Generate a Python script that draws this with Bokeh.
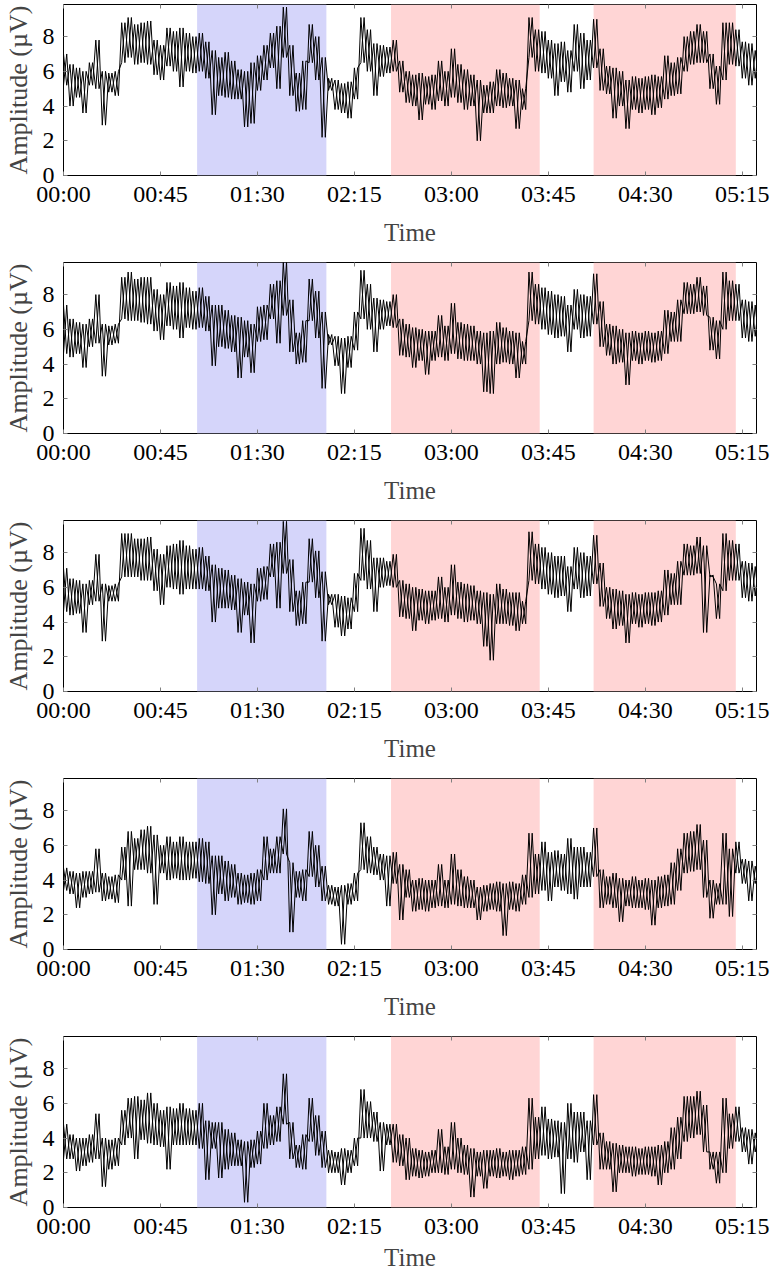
from bokeh.plotting import figure
from bokeh.layouts import column
from bokeh.models import (FixedTicker, LinearAxis, BoxAnnotation, Range1d, ColumnDataSource,
                          CustomLabelingPolicy)
from bokeh.embed import file_html
from bokeh.resources import INLINE

# ---------------- data ----------------
sample_minutes = list(range(0, 322, 3))          # sample times (minutes)
tick_minutes = [0, 45, 90, 135, 180, 225, 270, 315]
tick_labels = ["00:00", "00:45", "01:30", "02:15", "03:00", "03:45", "04:30", "05:15"]
y_ticks = [0, 2, 4, 6, 8]
x_end = 321.6
y_end = 9.85

region_start = [62, 152, 246]
region_end = [122, 221, 312]
region_color = ["#d5d5fa", "#ffd5d5", "#ffd5d5"]

# local maxima / minima of each trace in every 3-minute window
p1_hi = [7.0, 6.4, 6.2, 6.0, 6.5, 7.8, 6.0, 5.9, 6.0, 8.8,
         9.1, 8.7, 8.8, 8.9, 7.8, 7.5, 8.5, 8.3, 8.5, 8.2,
         8.0, 8.2, 7.7, 7.2, 6.8, 7.1, 6.6, 6.1, 6.0, 6.5,
         6.9, 7.5, 8.2, 8.6, 9.7, 7.5, 5.9, 6.6, 8.7, 8.0,
         6.8, 5.6, 5.5, 5.3, 5.4, 6.2, 9.1, 8.4, 7.6, 7.5,
         7.4, 7.8, 6.6, 6.0, 5.8, 5.9, 5.7, 5.8, 6.6, 6.0,
         7.3, 6.4, 6.1, 5.8, 5.5, 5.2, 5.4, 6.1, 5.9, 5.6,
         5.5, 5.0, 9.1, 8.4, 8.3, 7.8, 7.6, 7.7, 7.2, 8.7,
         8.2, 7.8, 9.0, 7.3, 6.3, 6.2, 6.0, 5.5, 5.7, 5.6,
         5.7, 5.8, 5.7, 6.9, 6.5, 6.8, 8.0, 8.3, 8.7, 8.3,
         7.0, 6.3, 8.8, 8.8, 8.4, 7.7, 7.6, 7.2]
p1_lo = [5.2, 4.0, 4.5, 3.6, 5.2, 5.0, 2.9, 4.8, 4.6, 6.5,
         6.8, 6.4, 6.5, 6.4, 5.8, 5.5, 6.3, 6.0, 5.1, 6.0,
         5.9, 6.0, 5.6, 3.5, 4.6, 4.5, 4.4, 4.4, 2.8, 3.0,
         4.9, 5.5, 6.2, 5.0, 6.8, 4.6, 3.7, 3.8, 6.5, 5.5,
         2.2, 4.9, 3.8, 3.6, 3.3, 4.4, 6.5, 6.0, 4.6, 5.7,
         5.9, 6.0, 4.8, 4.2, 4.0, 3.2, 4.1, 3.8, 4.3, 4.0,
         4.5, 4.2, 3.8, 4.0, 2.0, 3.6, 3.6, 4.0, 3.9, 4.0,
         2.7, 3.8, 6.8, 6.0, 5.9, 5.6, 4.6, 5.4, 4.8, 6.0,
         5.0, 5.5, 6.2, 4.9, 4.7, 3.3, 4.0, 2.7, 3.8, 3.6,
         3.8, 3.5, 3.9, 4.4, 4.6, 4.7, 6.0, 6.4, 6.5, 6.5,
         5.0, 4.1, 5.5, 6.4, 6.3, 5.6, 5.2, 5.6]

p2_hi = [7.4, 6.6, 6.4, 6.3, 6.6, 8.0, 6.3, 6.2, 6.3, 9.0,
         9.3, 8.9, 9.0, 9.0, 8.3, 8.0, 8.7, 8.5, 8.7, 8.4,
         8.2, 8.4, 7.9, 7.4, 7.4, 7.1, 6.8, 6.7, 6.5, 6.3,
         7.3, 7.4, 8.6, 8.8, 9.9, 7.7, 5.8, 6.5, 8.9, 8.2,
         7.0, 5.7, 5.6, 5.5, 5.6, 7.0, 9.4, 8.6, 7.8, 7.7,
         7.6, 8.0, 6.6, 6.3, 6.1, 6.0, 5.9, 5.9, 6.8, 6.2,
         7.5, 6.4, 6.3, 6.2, 5.9, 5.8, 5.9, 6.4, 6.1, 5.9,
         5.8, 5.3, 9.3, 8.6, 8.4, 8.2, 8.0, 7.9, 7.4, 8.3,
         8.0, 7.9, 9.2, 7.6, 6.3, 6.2, 6.0, 5.8, 5.9, 5.8,
         5.9, 5.8, 5.9, 7.1, 7.0, 7.7, 8.7, 8.6, 9.0, 8.5,
         6.7, 6.5, 9.3, 8.8, 8.6, 7.7, 7.6, 7.4]
p2_lo = [4.6, 4.4, 4.6, 3.8, 5.0, 5.2, 3.3, 5.1, 5.2, 6.6,
         6.5, 6.5, 6.4, 6.3, 5.9, 5.4, 6.2, 6.0, 5.5, 6.1,
         6.0, 6.1, 5.9, 3.9, 5.0, 4.9, 4.7, 3.2, 4.4, 3.5,
         5.3, 5.4, 6.6, 5.2, 6.8, 4.7, 4.0, 4.1, 6.5, 5.5,
         2.6, 5.1, 3.9, 2.3, 3.8, 4.8, 6.6, 6.0, 4.7, 6.0,
         6.2, 6.1, 4.5, 4.4, 3.8, 4.2, 3.4, 4.2, 4.4, 4.2,
         4.6, 4.3, 4.2, 4.2, 4.0, 2.4, 2.3, 4.0, 4.1, 4.0,
         3.2, 4.0, 6.5, 6.3, 6.0, 5.7, 5.5, 5.6, 4.7, 6.0,
         5.5, 5.6, 6.3, 5.0, 4.5, 4.0, 4.1, 2.8, 4.2, 4.0,
         4.2, 4.1, 4.2, 4.6, 5.3, 5.3, 6.9, 6.9, 7.0, 6.8,
         4.8, 4.3, 6.0, 6.5, 6.5, 5.5, 5.3, 5.6]

p3_hi = [7.1, 6.5, 6.4, 6.2, 6.4, 7.9, 6.2, 6.1, 6.2, 9.1,
         9.1, 8.8, 8.8, 8.9, 8.2, 7.9, 8.4, 8.5, 8.7, 8.4,
         8.2, 8.3, 7.8, 7.3, 7.1, 7.0, 6.7, 6.5, 6.3, 6.2,
         7.1, 7.2, 8.5, 8.6, 9.8, 7.6, 5.8, 6.3, 8.8, 8.1,
         6.9, 5.6, 5.6, 5.5, 5.4, 6.8, 9.4, 8.7, 7.7, 7.7,
         7.5, 7.9, 6.4, 6.2, 6.0, 5.9, 5.8, 5.8, 6.6, 6.0,
         7.3, 6.3, 6.2, 6.1, 5.8, 5.7, 5.6, 6.2, 5.9, 5.7,
         5.7, 5.2, 9.2, 8.5, 8.3, 8.0, 7.8, 7.8, 7.2, 8.3,
         8.0, 7.8, 9.0, 7.4, 6.0, 5.9, 5.8, 5.6, 5.7, 5.6,
         5.7, 5.7, 5.8, 7.0, 6.8, 7.5, 8.5, 8.4, 8.9, 8.4,
         6.7, 6.2, 9.1, 8.7, 8.5, 7.5, 7.4, 7.2]
p3_lo = [4.6, 4.4, 4.5, 3.4, 5.0, 5.2, 2.9, 5.2, 5.2, 6.6,
         6.6, 6.6, 6.4, 6.4, 5.8, 5.0, 6.0, 5.9, 5.6, 5.9,
         5.9, 5.9, 5.8, 4.0, 4.8, 4.8, 4.7, 3.4, 4.4, 2.8,
         5.2, 5.3, 6.6, 4.8, 6.8, 4.6, 3.8, 3.9, 6.3, 5.4,
         2.9, 5.0, 3.7, 3.2, 3.6, 4.6, 6.4, 5.9, 4.6, 6.0,
         6.1, 6.0, 4.3, 4.2, 3.5, 4.1, 3.9, 4.1, 4.2, 4.0,
         4.4, 4.2, 4.0, 4.1, 3.9, 2.6, 1.8, 3.9, 3.9, 3.8,
         3.5, 3.9, 6.4, 6.2, 5.9, 5.6, 5.4, 5.5, 4.6, 5.9,
         5.4, 5.5, 6.2, 4.9, 4.2, 3.6, 3.8, 2.8, 3.9, 3.7,
         3.9, 3.8, 4.0, 4.4, 5.0, 5.0, 6.7, 6.7, 6.8, 3.4,
         6.6, 4.2, 5.8, 6.4, 6.4, 5.4, 5.2, 5.5]

p4_hi = [4.7, 4.5, 4.4, 4.5, 4.5, 5.8, 4.4, 4.2, 4.3, 5.9,
         6.8, 6.4, 6.9, 7.1, 6.6, 6.0, 6.5, 6.2, 6.5, 6.2,
         6.2, 6.4, 6.2, 5.4, 5.4, 5.1, 4.9, 4.4, 4.3, 4.4,
         4.6, 6.5, 5.8, 6.5, 8.1, 5.0, 4.5, 4.6, 6.8, 6.0,
         4.8, 3.7, 3.6, 3.7, 3.8, 4.4, 7.3, 6.5, 5.9, 5.5,
         5.4, 5.6, 4.9, 4.6, 4.0, 4.1, 4.0, 4.0, 4.9, 4.0,
         5.5, 4.6, 4.2, 4.0, 3.6, 3.7, 3.8, 3.9, 3.8, 3.9,
         3.8, 4.3, 6.7, 5.5, 6.2, 5.6, 5.7, 5.5, 6.4, 5.9,
         5.9, 5.6, 7.0, 4.6, 4.2, 4.4, 4.1, 4.0, 4.2, 4.0,
         4.1, 4.0, 4.2, 4.3, 5.0, 5.8, 6.7, 6.8, 7.2, 6.3,
         4.0, 3.8, 6.7, 5.8, 6.2, 5.2, 5.1, 4.8]
p4_lo = [3.4, 3.2, 2.4, 3.0, 3.2, 3.3, 2.8, 2.9, 2.7, 4.0,
         2.5, 4.6, 4.6, 4.4, 2.6, 4.4, 4.0, 4.1, 4.0, 4.0,
         4.1, 3.9, 3.8, 2.0, 3.2, 2.8, 3.0, 2.6, 2.7, 2.6,
         2.8, 4.0, 4.4, 4.4, 5.5, 1.0, 3.0, 2.8, 4.2, 3.6,
         2.8, 2.6, 2.5, 0.3, 2.6, 2.8, 4.6, 4.4, 4.3, 4.0,
         2.5, 3.8, 1.7, 3.0, 2.2, 2.3, 2.2, 2.4, 2.5, 2.4,
         2.6, 2.5, 2.4, 2.4, 1.7, 2.2, 2.3, 2.2, 0.8, 2.3,
         2.2, 2.6, 3.0, 3.2, 3.4, 2.8, 3.6, 3.4, 3.2, 2.9,
         3.6, 3.6, 4.2, 2.4, 2.6, 2.4, 1.6, 2.5, 2.4, 2.4,
         2.3, 1.4, 2.4, 2.5, 2.6, 3.4, 4.4, 4.5, 4.6, 3.0,
         1.8, 2.6, 2.6, 1.9, 4.4, 3.8, 2.8, 3.8]

p5_hi = [4.8, 4.2, 4.0, 4.0, 4.2, 5.4, 4.0, 3.9, 4.0, 5.6,
         6.3, 6.4, 6.2, 6.6, 6.0, 5.6, 5.8, 5.7, 6.0, 5.7,
         5.6, 6.0, 5.0, 4.9, 4.9, 4.5, 4.3, 3.9, 3.8, 3.9,
         4.4, 6.0, 5.3, 5.8, 7.7, 4.9, 3.6, 4.2, 6.3, 5.3,
         4.4, 3.3, 3.2, 3.4, 3.3, 4.0, 6.8, 6.1, 5.5, 4.9,
         4.8, 4.8, 4.2, 4.0, 3.4, 3.3, 3.2, 3.3, 4.5, 3.5,
         4.9, 4.0, 3.6, 3.4, 3.2, 3.3, 3.3, 3.4, 3.2, 3.3,
         3.3, 3.5, 6.3, 5.2, 5.8, 5.1, 5.0, 4.9, 6.0, 5.5,
         5.5, 5.0, 6.5, 4.3, 3.8, 3.7, 3.6, 3.5, 3.5, 3.4,
         3.5, 3.5, 3.6, 3.8, 4.6, 5.2, 6.4, 6.4, 6.7, 5.9,
         3.2, 3.2, 6.3, 5.4, 5.8, 4.6, 4.5, 4.3]
p5_lo = [2.8, 2.8, 2.1, 2.4, 2.6, 2.8, 1.2, 2.2, 2.4, 3.6,
         4.0, 2.8, 3.9, 3.7, 3.6, 3.5, 2.2, 3.6, 3.6, 3.6,
         3.6, 3.4, 1.6, 3.4, 1.7, 2.2, 2.4, 2.4, 0.3, 2.3,
         2.5, 3.4, 3.6, 3.8, 4.8, 2.8, 2.3, 2.2, 3.8, 3.0,
         2.3, 2.0, 2.0, 1.3, 2.0, 2.4, 4.0, 4.0, 3.8, 2.1,
         3.6, 2.6, 2.4, 1.6, 1.8, 1.7, 1.8, 2.0, 2.0, 1.9,
         2.2, 2.0, 1.9, 0.6, 1.8, 1.1, 1.8, 1.7, 1.8, 1.6,
         1.8, 1.9, 2.2, 2.8, 3.0, 2.8, 2.9, 0.8, 2.8, 2.6,
         3.2, 1.6, 3.6, 2.2, 2.2, 0.9, 2.0, 2.0, 1.8, 1.9,
         1.9, 1.8, 1.3, 2.0, 2.2, 2.8, 3.8, 4.0, 4.2, 3.2,
         2.2, 1.4, 2.0, 3.4, 3.8, 3.2, 2.5, 3.2]

panels = [(p1_hi, p1_lo), (p2_hi, p2_lo), (p3_hi, p3_lo), (p4_hi, p4_lo), (p5_hi, p5_lo)]

# ---------------- style ----------------
FONT = "'Liberation Serif', serif"
TICK_COLOR = "#808080"
BOTTOM_BORDERS = [83, 83, 83, 83, 64]     # panel pitch 255 px, last panel keeps its x label
XLABEL_STANDOFF = [9, 9, 9, 9, 2]


def style_axis(ax, show_labels):
    ax.axis_line_color = None
    ax.major_tick_in = 4
    ax.major_tick_out = 0
    ax.minor_tick_in = 0
    ax.minor_tick_out = 0
    ax.major_tick_line_color = TICK_COLOR
    ax.major_tick_line_width = 1
    ax.major_label_text_font = FONT
    ax.major_label_text_color = "black"
    if show_labels:
        ax.major_label_text_font_size = "24px"
    else:
        ax.major_label_text_font_size = "1px"
        ax.major_label_policy = CustomLabelingPolicy(code="return []")
        ax.major_label_standoff = 0


def make_panel(hi, lo, bottom_border, xlabel_standoff):
    xa_, ya_, xb_, yb_ = [], [], [], []
    for t, h, l in zip(sample_minutes, hi, lo):
        xa_ += [t, t + 1.5]
        ya_ += [h, l]
        xb_ += [t, t + 1.5]
        yb_ += [l, h]
    src_a = ColumnDataSource(data=dict(x=xa_, y=ya_))
    src_b = ColumnDataSource(data=dict(x=xb_, y=yb_))

    p = figure(frame_width=693, frame_height=171,
               min_border_left=61, min_border_right=14,
               min_border_top=1, min_border_bottom=bottom_border,
               x_range=Range1d(0, x_end), y_range=Range1d(0, y_end),
               output_backend="svg", toolbar_location=None,
               background_fill_color="white", border_fill_color="white")
    p.grid.visible = False
    p.outline_line_color = "black"
    p.outline_line_width = 1

    for s, e, c in zip(region_start, region_end, region_color):
        p.add_layout(BoxAnnotation(left=s, right=e, fill_color=c, fill_alpha=1.0,
                                   line_color=None, level="underlay"))

    p.line("x", "y", source=src_a, line_color="black", line_width=1.0)
    p.line("x", "y", source=src_b, line_color="black", line_width=1.0)

    # bottom axis
    xa = p.xaxis[0]
    xa.ticker = FixedTicker(ticks=tick_minutes)
    xa.major_label_overrides = {m: lab for m, lab in zip(tick_minutes, tick_labels)}
    style_axis(xa, True)
    xa.major_label_standoff = 5
    xa.axis_label = "Time"
    xa.axis_label_text_font = FONT
    xa.axis_label_text_font_size = "25px"
    xa.axis_label_text_font_style = "normal"
    xa.axis_label_standoff = xlabel_standoff

    # left axis
    ya = p.yaxis[0]
    ya.ticker = FixedTicker(ticks=y_ticks)
    style_axis(ya, True)
    ya.major_label_standoff = 9
    ya.axis_label = "Amplitude (µV)"
    ya.axis_label_text_font = FONT
    ya.axis_label_text_font_size = "26px"
    ya.axis_label_text_font_style = "normal"
    ya.axis_label_standoff = 7

    # mirrored ticks on top and right (no labels)
    top = LinearAxis(ticker=FixedTicker(ticks=tick_minutes))
    style_axis(top, False)
    p.add_layout(top, "above")
    right = LinearAxis(ticker=FixedTicker(ticks=y_ticks))
    style_axis(right, False)
    p.add_layout(right, "right")
    return p


figs = [make_panel(hi, lo, b, s) for (hi, lo), b, s in zip(panels, BOTTOM_BORDERS, XLABEL_STANDOFF)]

layout = column(*figs, spacing=0)
open("out.html", "w").write(file_html(layout, INLINE))
